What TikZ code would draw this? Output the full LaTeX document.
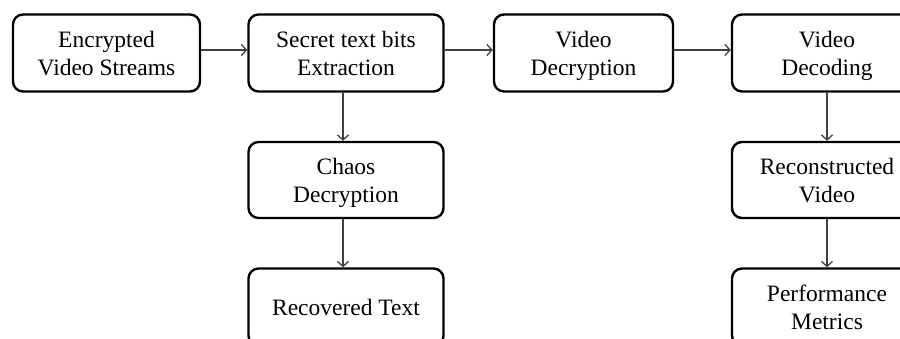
\documentclass[tikz,border=0pt]{standalone}
\usepackage{fontspec}
\setmainfont{Liberation Serif}
\usetikzlibrary{arrows.meta}
\newcommand{\tstr}{\rule{0pt}{22.5pt}}
\newcommand{\bstr}{\rule[-5.2pt]{0pt}{5.2pt}}
\begin{document}
\begin{tikzpicture}[x=1pt,y=1pt,
  box/.style={draw=black, line width=2.4pt, rounded corners=10pt, fill=white,
    align=center, inner sep=0pt, minimum height=77pt,
    font=\fontsize{23.5pt}{28pt}\selectfont},
  conn/.style={draw=black!75, line width=1.4pt,
    -{Straight Barb[length=5pt,width=11pt,line width=1.3pt]}}]
\useasboundingbox (0,0) rectangle (900,-339);
\node[box, minimum width=187pt] (enc) at (106.5,-53) {\tstr Encrypted\\Video Streams\bstr};
\node[box, minimum width=195pt] (sec) at (346,-53) {\tstr Secret text bits\\Extraction\bstr};
\node[box, minimum width=179pt] (vdec) at (583.5,-53) {\tstr Video\\Decryption\bstr};
\node[box, minimum width=190pt] (vdcd) at (827,-53) {\tstr Video\\Decoding\bstr};
\node[box, minimum width=195pt, minimum height=76pt] (chaos) at (346,-180) {\tstr Chaos\\Decryption\bstr};
\node[box, minimum width=195pt] (rec) at (346,-307) {\tstr Recovered Text\bstr};
\node[box, minimum width=190pt, minimum height=76pt] (recv) at (827,-180) {\tstr Reconstructed\\Video\bstr};
\node[box, minimum width=190pt] (perf) at (827,-307) {\tstr Performance\\Metrics\bstr};
\draw[conn] ([yshift=3pt]enc.east) -- ([yshift=3pt]sec.west);
\draw[conn] ([yshift=3pt]sec.east) -- ([yshift=3pt]vdec.west);
\draw[conn] ([yshift=3pt]vdec.east) -- ([yshift=3pt]vdcd.west);
\draw[conn] ([xshift=-3pt]sec.south) -- ([xshift=-3pt]chaos.north);
\draw[conn] ([xshift=-3pt]chaos.south) -- ([xshift=-3pt]rec.north);
\draw[conn] (vdcd.south) -- (recv.north);
\draw[conn] (recv.south) -- (perf.north);
\end{tikzpicture}
\end{document}
